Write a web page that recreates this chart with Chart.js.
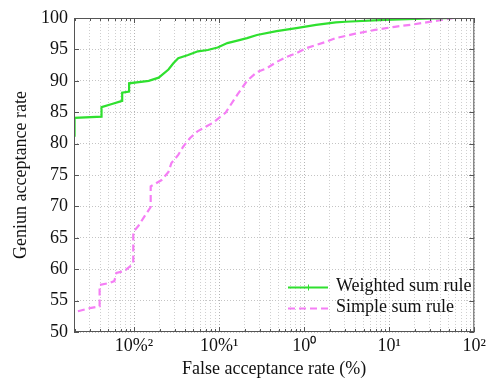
<!DOCTYPE html>
<html>
<head>
<meta charset="utf-8">
<script src="https://cdn.jsdelivr.net/npm/chart.js@4.4.0/dist/chart.umd.min.js"></script>
<style>
    html, body { margin: 0; padding: 0; background: #fff; }
    #wrap { width: 489px; height: 383px; }
</style>
</head>
<body>
<div id="wrap"><canvas id="rocChart" width="489" height="383"></canvas></div>
<script>
// Series (x = false acceptance rate in %, y = genuine acceptance rate)
const weightedFar = [0.002, 0.002, 0.00415, 0.00415, 0.0055, 0.00726, 0.00726, 0.00875, 0.00875, 0.0149, 0.0195, 0.0254, 0.029, 0.0331, 0.0432, 0.0564, 0.0736, 0.0961, 0.125, 0.164, 0.213, 0.279, 0.474, 0.809, 1.38, 2.35, 3.06, 8.87, 20, 57.2];
const weightedGar = [81.1, 84.1, 84.3, 85.8, 86.3, 86.8, 88.1, 88.3, 89.6, 90.0, 90.5, 91.8, 92.8, 93.6, 94.1, 94.7, 94.9, 95.3, 96.0, 96.4, 96.8, 97.3, 97.9, 98.4, 98.9, 99.3, 99.4, 99.7, 99.85, 100];

const simpleFar = [0.00219, 0.00302, 0.00394, 0.00394, 0.00514, 0.00587, 0.0062, 0.00766, 0.00948, 0.0098, 0.0098, 0.0114, 0.0131, 0.0157, 0.0157, 0.0211, 0.0254, 0.0275, 0.0331, 0.0378, 0.0456, 0.0564, 0.0841, 0.119, 0.164, 0.213, 0.279, 0.364, 0.474, 0.619, 0.809, 1.055, 1.38, 1.80, 2.35, 3.99, 6.80, 11.6, 19.7, 33.6, 57.2];
const simpleGar = [53.3, 53.8, 54.1, 57.5, 57.8, 58.1, 59.4, 59.7, 60.7, 61.0, 65.9, 67.0, 68.3, 69.9, 73.2, 74.2, 75.5, 76.9, 78.2, 79.5, 80.9, 82.0, 83.3, 84.9, 87.8, 90.0, 91.4, 92.0, 93.0, 93.8, 94.4, 95.2, 95.7, 96.2, 96.8, 97.5, 98.1, 98.6, 99.0, 99.5, 100];

const seriesNames = ['Weighted sum rule', 'Simple sum rule'];

// Axis ticks
const xTickValues = [0.01, 0.1, 1, 10, 100];
const xTickLabels = ['10%\u00B2', '10%\u00B9', '10\u2070', '10\u00B9', '10\u00B2'];
const yTickValues = [50, 55, 60, 65, 70, 75, 80, 85, 90, 95, 100];

const X_MIN = 0.00197;
const X_MAX = 100;
const FONT = "'Liberation Serif', 'Times New Roman', serif";

function toPoints(xs, ys) {
    return xs.map((x, i) => ({ x: x, y: ys[i] }));
}

function isMajor(v) {
    return xTickValues.some(t => Math.abs(t - v) / t < 1e-6);
}

// frame with inward tick marks, like the original plot box
const framePlugin = {
    id: 'frame',
    afterDatasetsDraw(chart) {
        const { ctx, chartArea: a, scales } = chart;
        ctx.save();
        ctx.strokeStyle = '#555';
        ctx.lineWidth = 1;
        ctx.strokeRect(a.left + 0.5, a.top + 0.5, a.right - a.left - 1, a.bottom - a.top - 1);
        scales.x.ticks.forEach(t => {
            const px = Math.round(scales.x.getPixelForValue(t.value)) + 0.5;
            const len = isMajor(t.value) ? 5 : 3;
            ctx.beginPath();
            ctx.moveTo(px, a.bottom); ctx.lineTo(px, a.bottom - len);
            ctx.moveTo(px, a.top); ctx.lineTo(px, a.top + len);
            ctx.stroke();
        });
        scales.y.ticks.forEach(t => {
            const py = Math.round(scales.y.getPixelForValue(t.value)) + 0.5;
            ctx.beginPath();
            ctx.moveTo(a.left, py); ctx.lineTo(a.left + 5, py);
            ctx.moveTo(a.right, py); ctx.lineTo(a.right - 5, py);
            ctx.stroke();
        });
        ctx.restore();
    }
};

// legend drawn inside the plot, bottom right
const insideLegend = {
    id: 'insideLegend',
    afterDraw(chart) {
        const { ctx } = chart;
        ctx.save();
        ctx.font = '18px ' + FONT;
        ctx.textBaseline = 'middle';
        ctx.textAlign = 'left';
        const rows = [{ y: 287 }, { y: 308 }];
        chart.data.datasets.forEach((ds, i) => {
            const y = rows[i].y + 0.5;
            ctx.strokeStyle = ds.borderColor;
            ctx.lineWidth = 2;
            ctx.setLineDash(ds.borderDash || []);
            ctx.beginPath();
            ctx.moveTo(288, y); ctx.lineTo(328, y);
            ctx.stroke();
            ctx.setLineDash([]);
            if (i === 0) {
                ctx.lineWidth = 1;
                ctx.beginPath();
                ctx.moveTo(308.5, y - 3); ctx.lineTo(308.5, y + 3);
                ctx.stroke();
            }
            ctx.fillStyle = '#111';
            ctx.fillText(ds.label, 336, y - 1);
        });
        ctx.restore();
    }
};

const ctx = document.getElementById('rocChart').getContext('2d');
new Chart(ctx, {
    type: 'line',
    data: {
        datasets: [{
            label: seriesNames[0],
            data: toPoints(weightedFar, weightedGar),
            borderColor: '#2fe02f',
            borderWidth: 2.2,
            pointRadius: 0,
            tension: 0,
            fill: false
        }, {
            label: seriesNames[1],
            data: toPoints(simpleFar, simpleGar),
            borderColor: '#f57ef5',
            borderWidth: 2.2,
            borderDash: [7, 4],
            pointRadius: 0,
            tension: 0,
            fill: false
        }]
    },
    options: {
        responsive: false,
        animation: false,
        layout: { padding: { top: 18, right: 7, left: 0, bottom: 0 } },
        plugins: {
            legend: { display: false },
            tooltip: { enabled: false }
        },
        scales: {
            x: {
                type: 'logarithmic',
                min: X_MIN,
                max: X_MAX,
                afterBuildTicks(scale) {
                    const ticks = [];
                    for (let k = -3; k <= 2; k++) {
                        for (let m = 1; m <= 9; m++) {
                            const v = m * Math.pow(10, k);
                            if (v >= X_MIN && v <= X_MAX * 1.0001) ticks.push({ value: v });
                        }
                    }
                    scale.ticks = ticks;
                },
                afterFit(scale) { scale.height = 51; },
                grid: {
                    drawTicks: false,
                    color: c => (c.tick && isMajor(c.tick.value)) ? '#b4b4b4' : '#cfcfcf',
                    lineWidth: 1
                },
                border: { display: false, dash: [1, 2] },
                ticks: {
                    autoSkip: false,
                    maxRotation: 0,
                    padding: 3,
                    color: '#111',
                    font: { family: FONT, size: 18 },
                    callback: v => {
                        const i = xTickValues.findIndex(t => Math.abs(t - v) / t < 1e-6);
                        return i >= 0 ? xTickLabels[i] : '';
                    }
                },
                title: {
                    display: true,
                    text: 'False acceptance rate (%)',
                    color: '#111',
                    font: { family: FONT, size: 18 },
                    padding: { top: 0, bottom: 3 }
                }
            },
            y: {
                min: 50,
                max: 100,
                afterBuildTicks(scale) {
                    scale.ticks = yTickValues.map(v => ({ value: v }));
                },
                afterFit(scale) { scale.width = 74; },
                grid: {
                    drawTicks: false,
                    color: '#c4c4c4',
                    lineWidth: 1
                },
                border: { display: false, dash: [1, 2] },
                ticks: {
                    padding: 6,
                    color: '#111',
                    font: { family: FONT, size: 18 }
                },
                title: {
                    display: true,
                    text: 'Geniun acceptance rate',
                    color: '#111',
                    font: { family: FONT, size: 18 },
                    padding: { top: 10, bottom: 0 }
                }
            }
        }
    },
    plugins: [framePlugin, insideLegend]
});
</script>
</body>
</html>
